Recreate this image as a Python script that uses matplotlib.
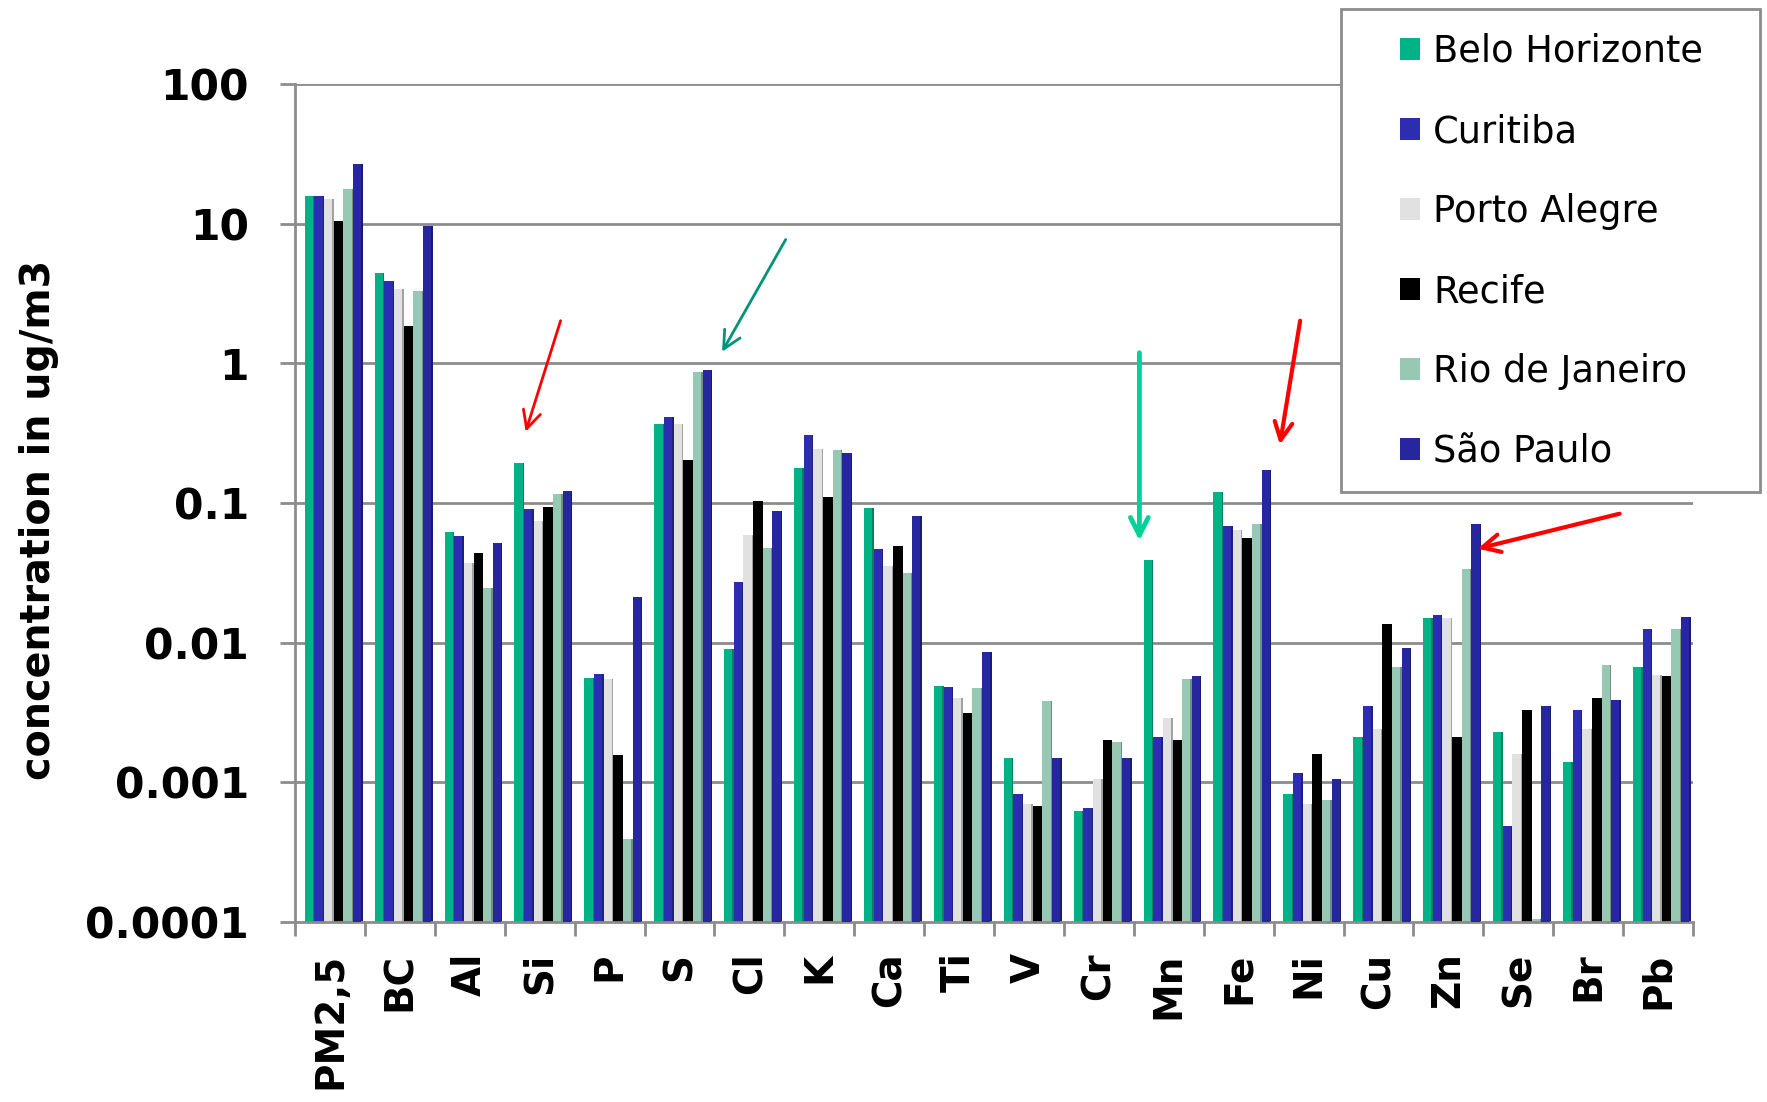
import numpy as np
import matplotlib
matplotlib.use("Agg")
import matplotlib.pyplot as plt
from matplotlib.colors import to_rgb
from matplotlib.patches import Rectangle

plt.rcParams['font.family'] = ['DejaVu Sans']

categories = ["PM2,5", "BC", "Al", "Si", "P", "S", "Cl", "K", "Ca", "Ti",
              "V", "Cr", "Mn", "Fe", "Ni", "Cu", "Zn", "Se", "Br", "Pb"]

belo_horizonte = [15.7, 4.4, 0.062, 0.192, 0.0056, 0.366, 0.0090, 0.178, 0.092, 0.0049,
                  0.0015, 0.00062, 0.039, 0.120, 0.00083, 0.0021, 0.0149, 0.0023, 0.0014, 0.0067]
curitiba = [15.7, 3.9, 0.058, 0.091, 0.0060, 0.41, 0.027, 0.305, 0.047, 0.0048,
            0.00082, 0.00066, 0.0021, 0.069, 0.00116, 0.0035, 0.0158, 0.00049, 0.0033, 0.0125]
porto_alegre = [15.0, 3.43, 0.037, 0.074, 0.0055, 0.366, 0.059, 0.244, 0.0355, 0.0040,
                0.00070, 0.00106, 0.0029, 0.0645, 0.00070, 0.0024, 0.0149, 0.0016, 0.0024, 0.0059]
recife = [10.4, 1.86, 0.044, 0.093, 0.00156, 0.203, 0.103, 0.111, 0.049, 0.00315,
          0.00068, 0.0020, 0.0020, 0.0557, 0.0016, 0.0136, 0.0021, 0.0033, 0.0040, 0.0058]
rio_de_janeiro = [17.8, 3.3, 0.0245, 0.116, 0.00039, 0.865, 0.048, 0.238, 0.0317, 0.0047,
                  0.0038, 0.00196, 0.0055, 0.0708, 0.00075, 0.0067, 0.0338, 0.000105, 0.0069, 0.0125]
sao_paulo = [26.9, 9.66, 0.052, 0.121, 0.0211, 0.89, 0.087, 0.229, 0.081, 0.0086,
             0.0015, 0.0015, 0.0058, 0.173, 0.00105, 0.0091, 0.0708, 0.0035, 0.0039, 0.0153]

series_names = ["Belo Horizonte", "Curitiba", "Porto Alegre", "Recife", "Rio de Janeiro", "São Paulo"]
series_values = [belo_horizonte, curitiba, porto_alegre, recife, rio_de_janeiro, sao_paulo]
series_colors = ["#00B386", "#2D2DB1", "#E1E1E1", "#000000", "#96C8B3", "#26269F"]

floor = 1e-4

W, H = 1767, 1102
fig = plt.figure(figsize=(W / 100, H / 100), dpi=100)
ax = fig.add_axes([295 / W, 180 / H, 1398 / W, 838 / H])
ax.set_yscale('log')
ax.set_ylim(1e-4, 100)
ax.set_xlim(0, len(categories))

grid_col = "#8C8C8C"
for yv in [1e-3, 1e-2, 1e-1, 1, 10, 100]:
    ax.axhline(yv, color=grid_col, lw=2, zorder=0.5)

x = np.arange(len(categories))
nser = len(series_names)
slot = 0.138
front_w = 0.118
start = 0.14

def darker(c, f=0.72):
    r, g, b = to_rgb(c)
    return (r * f, g * f, b * f)

for k, (name, vals, col) in enumerate(zip(series_names, series_values, series_colors)):
    vals = np.array(vals)
    left = x + start + k * slot
    ax.bar(left + slot - 0.03, vals - floor, bottom=floor, width=0.03, align='edge',
           color=darker(col), zorder=2 + k * 0.1, linewidth=0)
    ax.bar(left, vals - floor, bottom=floor, width=front_w, align='edge',
           color=col, zorder=2.05 + k * 0.1, linewidth=0, label=name)

for s in ['top', 'right']:
    ax.spines[s].set_visible(False)
for s in ['left', 'bottom']:
    ax.spines[s].set_color(grid_col)
    ax.spines[s].set_linewidth(2)

ax.set_yticks([1e-4, 1e-3, 1e-2, 1e-1, 1, 10, 100])
ax.set_yticklabels(["0.0001", "0.001", "0.01", "0.1", "1", "10", "100"],
                   fontsize=30.5, fontweight='bold')
ax.yaxis.set_minor_locator(matplotlib.ticker.NullLocator())
ax.tick_params(axis='y', length=11, width=2, color=grid_col, pad=22)

ax.set_xticks(np.arange(len(categories) + 1), minor=False)
ax.set_xticklabels([])
ax.tick_params(axis='x', which='major', length=10, width=2, color=grid_col)
ax.set_xticks(x + 0.5, minor=True)
ax.set_xticklabels(categories, minor=True, rotation=90, fontsize=28, fontweight='bold')
ax.tick_params(axis='x', which='minor', length=0, pad=22)

fig.text(39 / W, 1 - 520 / H, "concentration in ug/m3", fontsize=28.5, fontweight='bold',
         rotation=90, ha='center', va='center')

# annotation arrows
arrows = [
    ((3.80, 2.02), (3.30, 0.324), "#FF0000", 2.0),
    ((7.02, 7.7), (6.11, 1.21), "#00937A", 2.0),
    ((12.08, 1.19), (12.08, 0.0537), "#00D39A", 3.5),
    ((14.38, 2.02), (14.09, 0.262), "#FF0000", 3.0),
    ((18.95, 0.0838), (16.92, 0.0471), "#FF0000", 3.0),
]
for tail, head, col, lw in arrows:
    ax.annotate("", xy=head, xytext=tail, xycoords='data', textcoords='data',
                arrowprops=dict(arrowstyle='->', color=col, lw=lw, mutation_scale=32,
                                shrinkA=0, shrinkB=0), zorder=10, annotation_clip=False)

# legend box
box = Rectangle((1341 / W, 1 - 492 / H), 419 / W, 483 / H, transform=fig.transFigure,
                facecolor='white', edgecolor=grid_col, linewidth=2, zorder=19)
fig.add_artist(box)

handles, labels = ax.get_legend_handles_labels()
leg = fig.legend(handles, labels, loc='upper left', bbox_to_anchor=(1400 / W, 1 - 33 / H),
                 fontsize=26.5, frameon=False, handlelength=0.55, handleheight=0.55,
                 handletextpad=0.35, labelspacing=1.17, borderpad=0, borderaxespad=0)
leg.set_zorder(20)

fig.savefig("out.png", dpi=100)
